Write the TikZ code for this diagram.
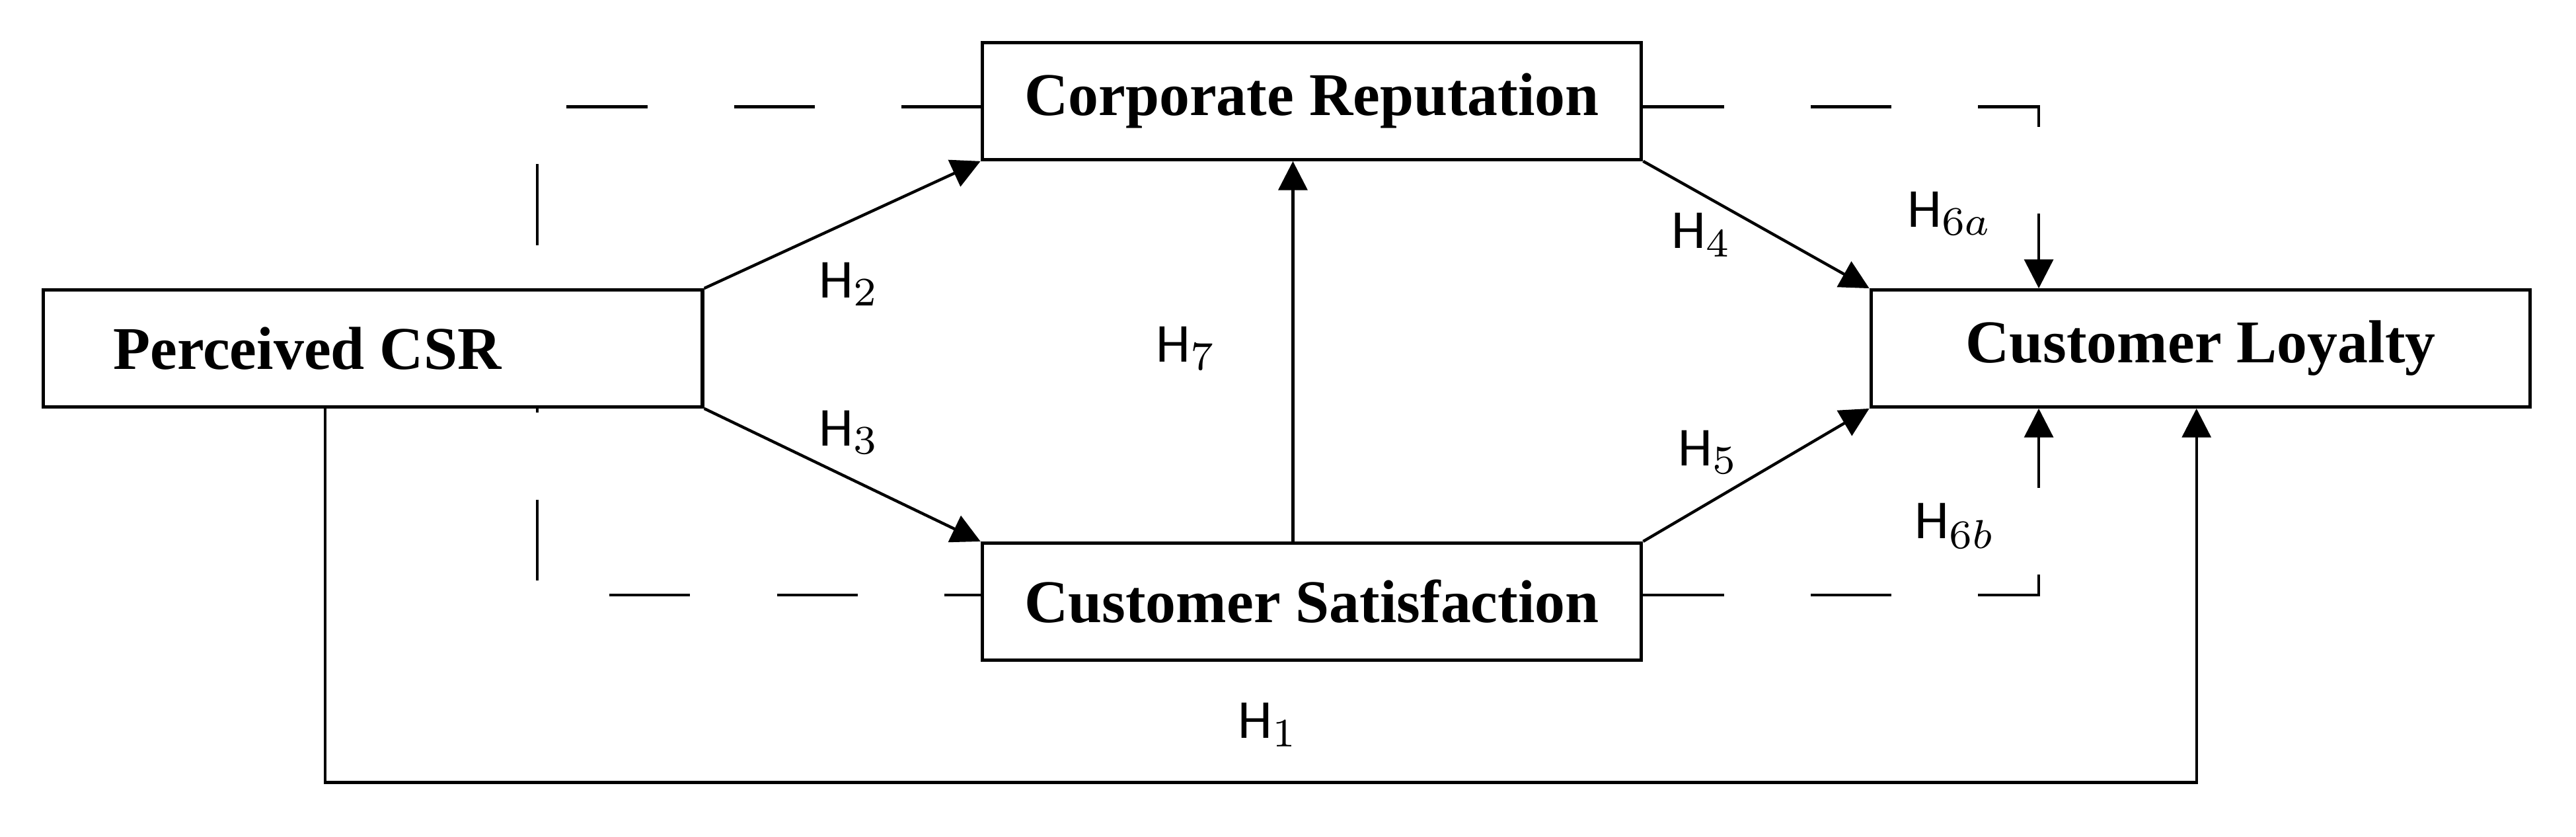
\documentclass[tikz,border=0pt]{standalone}
\usepackage{fontspec}
\setmainfont{Liberation Serif}
\newfontfamily\hfont{Carlito}
\begin{document}
\begin{tikzpicture}[x=0.01cm,y=-0.01cm,
  box/.style={draw,line width=0.6pt,fill=white,minimum width=4.01cm,minimum height=0.71cm,inner sep=0pt,font=\fontsize{10.5}{12}\selectfont\bfseries},
  arr/.style={line width=0.5pt,-{Triangle[length=5pt,width=5pt]}},
  dsh/.style={line width=0.5pt,dash pattern=on 14pt off 15pt},
  hl/.style={font=\hfont\fontsize{9.5}{11}\selectfont}]
\useasboundingbox (0,0) rectangle (1568,509);
\usetikzlibrary{arrows.meta}
\coordinate (d1) at (327,65); \coordinate (d2) at (327,362);
\coordinate (d3) at (1241,65); \coordinate (d4) at (1241,362);
\coordinate (b1) at (198,476); \coordinate (b2) at (1337,476);
\draw[dsh] (598,65) -- (d1) -- (d2) -- (598,362);
\node[box] (csr) at (227,212) {\hspace*{-0.8cm}Perceived CSR};
\node[box] (cr) at (798.5,61.5) {Corporate Reputation};
\node[box] (cs) at (798.5,366) {Customer Satisfaction};
\node[box] (cl) at (1339.5,212) {Customer Loyalty};
\draw[arr] (csr.north east) -- (cr.south west);
\draw[arr] (csr.south east) -- (cs.north west);
\draw[arr] (cr.south east) -- (cl.north west);
\draw[arr] (cs.north east) -- (cl.south west);
\draw[arr] (cs.north -| 787,0) -- (cr.south -| 787,0);
\draw[arr] (csr.south -| b1) -- (b1) -- (b2) -- (cl.south -| b2);
\draw[dsh] (cr.east |- d3) -- (d3) -- (1241,150);
\draw[arr] (1241,150) -- (cl.north -| d3);
\draw[dsh] (cs.east |- d4) -- (d4) -- (1241,275);
\draw[arr] (1241,275) -- (cl.south -| d4);
\node[hl] at (517,173) {H$_2$};
\node[hl] at (517,263) {H$_3$};
\node[hl] at (1036,143) {H$_4$};
\node[hl] at (1040,275) {H$_5$};
\node[hl] at (1187,130) {H$_{6a}$};
\node[hl] at (1190,320) {H$_{6b}$};
\node[hl] at (722,212) {H$_7$};
\node[hl] at (772,441) {H$_1$};
\end{tikzpicture}
\end{document}
